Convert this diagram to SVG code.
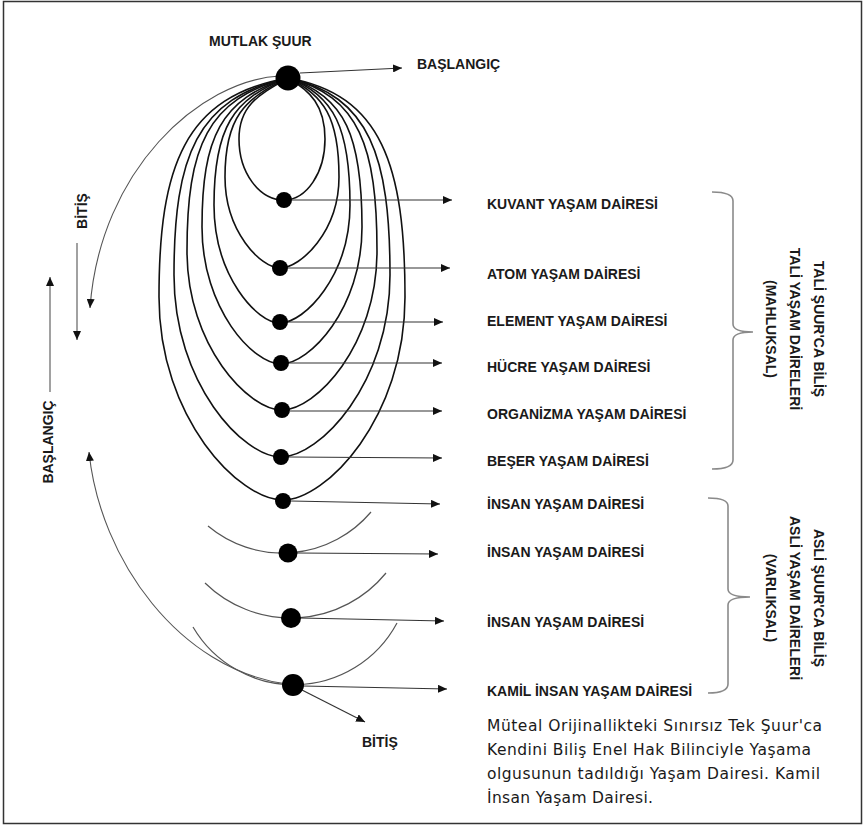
<svg xmlns="http://www.w3.org/2000/svg" width="866" height="826" viewBox="0 0 866 826">
<style>
.lbl{font-family:"Liberation Sans",Arial,sans-serif;font-weight:bold;font-size:14px;fill:#1a1a1a}
.desc{font-family:"DejaVu Sans",Verdana,sans-serif;font-size:15.5px;fill:#1a1a1a}
.loop{fill:none;stroke:#111;stroke-width:1.6}
.arc{fill:none;stroke:#555;stroke-width:1.2}
.arr{fill:none;stroke:#333;stroke-width:1.2;marker-end:url(#ah)}
.thin{fill:none;stroke:#555;stroke-width:1.1;marker-end:url(#ah)}
.gray{fill:none;stroke:#8a8a8a;stroke-width:1.6;marker-end:url(#ah)}
.brace{fill:none;stroke:#8a8a8a;stroke-width:1.6}
.dot{fill:#000}
</style>
<defs>
<marker id="ah" markerUnits="userSpaceOnUse" markerWidth="9" markerHeight="8" refX="9" refY="4" orient="auto">
<path d="M0,0 L9,4 L0,8 z" fill="#111"/>
</marker>
</defs>
<rect x="3.5" y="1.5" width="858" height="822" fill="#fff" stroke="#333" stroke-width="1.5"/>

<g id="connectors">
<path class="loop" d="M288 78 C258.6 95 239 105.4 239 139 C239 172.7 259.2 200 284 200 C306.6 200 325 172.7 325 139 C325 105.4 310.2 90.8 288 78"/>
<path class="loop" d="M288 78 C243.9 98.6 225 117.6 225 177 C225 231.6 260.8 268 280 268 C300.7 268 339 231.6 339 177 C339 117.6 323.7 94.6 288 78"/>
<path class="loop" d="M288 78 C232.5 98.2 214 128.8 214 205 C214 275.8 256.9 323 280 323 C304.5 323 350 275.8 350 205 C350 128.8 334.5 94.9 288 78"/>
<path class="loop" d="M288 78 C220.9 98.5 202 137.6 202 227 C202 309.2 253.4 364 281 364 C309.4 364 362 309.2 362 227 C362 137.6 345.7 95.7 288 78"/>
<path class="loop" d="M288 78 C207.2 98.1 187 147.2 187 251 C187 346.4 248.8 410 282 410 C315.3 410 377 346.4 377 251 C377 147.2 359.2 95.7 288 78"/>
<path class="loop" d="M288 78 C196.8 97.4 174 156.8 174 275 C174 384.2 243.6 457 281 457 C319.2 457 390 384.2 390 275 C390 156.8 369.6 95.4 288 78"/>
<path class="loop" d="M288 78 C184.8 96.2 159 165.6 159 297 C159 418.8 239.6 500 283 500 C325.7 500 405 418.8 405 297 C405 165.6 381.6 94.5 288 78"/>
<path class="arc" d="M208 526 A116 116 0 0 0 371 512"/>
<path class="arc" d="M205 583 A123 123 0 0 0 386 573"/>
<path class="arc" d="M193 627 A117 117 0 0 0 397 623"/>
<path class="thin" d="M280 76 C200 80 100 170 90 308"/>
<path class="thin" d="M287 684 C180 670 100 560 89 452"/>
<path class="arr" d="M300 73 L402 68"/>
<path class="arr" d="M292 200 L452 200"/>
<path class="arr" d="M288 268 L450 268"/>
<path class="arr" d="M288 322 L443 322"/>
<path class="arr" d="M289 363 L442 363"/>
<path class="arr" d="M290 411 L442 411"/>
<path class="arr" d="M289 457 L442 458"/>
<path class="arr" d="M291 501 L440 504"/>
<path class="arr" d="M297 553 L438 554"/>
<path class="arr" d="M300 618 L444 621"/>
<path class="arr" d="M303 686 L447 689"/>
<path class="arr" d="M300 689 L365 722"/>
<path class="gray" d="M50 392 L50 277"/>
<path class="gray" d="M77 243 L77 340"/>
<path class="brace" d="M712 192 Q733 192 733 201 L733 324 Q733 332 753 332 Q733 332 733 340 L733 460 Q733 469 712 469"/>
<path class="brace" d="M708 498 Q728 498 728 506 L728 589 Q728 597 750 597 Q728 597 728 605 L728 684 Q728 693 708 693"/>
</g>

<g id="node-mutlak">
<circle class="dot" cx="288" cy="78" r="12.5"/>
<text class="lbl" x="209" y="46">MUTLAK ŞUUR</text>
<text class="lbl" x="417" y="69">BAŞLANGIÇ</text>
</g>
<g id="node-kuvant"><circle class="dot" cx="284" cy="200" r="8"/><text class="lbl" x="487" y="209">KUVANT YAŞAM DAİRESİ</text></g>
<g id="node-atom"><circle class="dot" cx="280" cy="268" r="8"/><text class="lbl" x="487" y="279">ATOM YAŞAM DAİRESİ</text></g>
<g id="node-element"><circle class="dot" cx="280" cy="322" r="8"/><text class="lbl" x="487" y="326">ELEMENT YAŞAM DAİRESİ</text></g>
<g id="node-hucre"><circle class="dot" cx="281" cy="363" r="8"/><text class="lbl" x="487" y="372">HÜCRE YAŞAM DAİRESİ</text></g>
<g id="node-organizma"><circle class="dot" cx="282" cy="410" r="8"/><text class="lbl" x="487" y="419">ORGANİZMA YAŞAM DAİRESİ</text></g>
<g id="node-beser"><circle class="dot" cx="281" cy="457" r="8"/><text class="lbl" x="487" y="466">BEŞER YAŞAM DAİRESİ</text></g>
<g id="node-insan1"><circle class="dot" cx="283" cy="501" r="8"/><text class="lbl" x="487" y="509">İNSAN YAŞAM DAİRESİ</text></g>
<g id="node-insan2"><circle class="dot" cx="288" cy="553" r="9.5"/><text class="lbl" x="487" y="557">İNSAN YAŞAM DAİRESİ</text></g>
<g id="node-insan3"><circle class="dot" cx="291" cy="618" r="10"/><text class="lbl" x="487" y="627">İNSAN YAŞAM DAİRESİ</text></g>
<g id="node-kamil"><circle class="dot" cx="293" cy="685" r="11"/><text class="lbl" x="487" y="696">KAMİL İNSAN YAŞAM DAİRESİ</text>
<text class="lbl" x="362" y="747">BİTİŞ</text></g>

<g id="side-labels">
<text class="lbl" text-anchor="middle" transform="translate(53,442) rotate(-90)">BAŞLANGIÇ</text>
<text class="lbl" text-anchor="middle" transform="translate(87,211) rotate(-90)">BİTİŞ</text>
</g>

<g id="group-tali">
<text class="lbl" text-anchor="middle" transform="translate(814,329) rotate(90)">TALİ ŞUUR'CA BİLİŞ</text>
<text class="lbl" text-anchor="middle" transform="translate(790,329) rotate(90)">TALİ YAŞAM DAİRELERİ</text>
<text class="lbl" text-anchor="middle" transform="translate(766,329) rotate(90)">(MAHLUKSAL)</text>
</g>
<g id="group-asli">
<text class="lbl" text-anchor="middle" transform="translate(814,598) rotate(90)">ASLİ ŞUUR'CA BİLİŞ</text>
<text class="lbl" text-anchor="middle" transform="translate(790,598) rotate(90)">ASLİ YAŞAM DAİRELERİ</text>
<text class="lbl" text-anchor="middle" transform="translate(766,598) rotate(90)">(VARLIKSAL)</text>
</g>

<g id="description">
<text class="desc" x="487" y="731" textLength="335" lengthAdjust="spacing">Müteal Orijinallikteki Sınırsız Tek Şuur'ca</text>
<text class="desc" x="487" y="755" textLength="324" lengthAdjust="spacing">Kendini Biliş Enel Hak Bilinciyle Yaşama</text>
<text class="desc" x="487" y="779" textLength="333" lengthAdjust="spacing">olgusunun tadıldığı Yaşam Dairesi. Kamil</text>
<text class="desc" x="487" y="803" textLength="166" lengthAdjust="spacing">İnsan Yaşam Dairesi.</text>
</g>
</svg>
